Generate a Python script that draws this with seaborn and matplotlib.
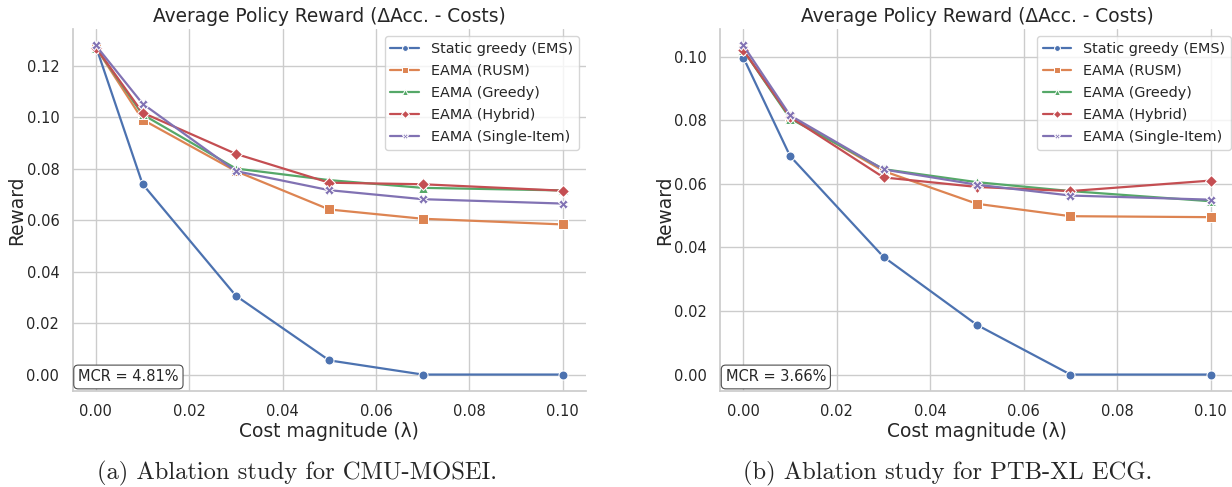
import numpy as np
import pandas as pd
import matplotlib
matplotlib.use("Agg")
import matplotlib.pyplot as plt
import seaborn as sns

# ---- data ----
cost = [0.0, 0.01, 0.03, 0.05, 0.07, 0.10]
methods = ["Static greedy (EMS)", "EAMA (RUSM)", "EAMA (Greedy)", "EAMA (Hybrid)", "EAMA (Single-Item)"]

mosei_static = [0.1275, 0.0740, 0.0306, 0.0055, 0.0000, 0.0000]
mosei_rusm = [0.1270, 0.0990, 0.0790, 0.0641, 0.0605, 0.0583]
mosei_greedy = [0.1270, 0.1010, 0.0800, 0.0755, 0.0725, 0.0715]
mosei_hybrid = [0.1270, 0.1017, 0.0857, 0.0745, 0.0739, 0.0714]
mosei_single = [0.1278, 0.1052, 0.0790, 0.0716, 0.0681, 0.0664]

ptb_static = [0.0997, 0.0687, 0.0370, 0.0156, 0.0000, 0.0000]
ptb_rusm = [0.1020, 0.0810, 0.0640, 0.0537, 0.0498, 0.0495]
ptb_greedy = [0.1020, 0.0805, 0.0646, 0.0605, 0.0577, 0.0545]
ptb_hybrid = [0.1020, 0.0810, 0.0620, 0.0590, 0.0577, 0.0610]
ptb_single = [0.1035, 0.0815, 0.0645, 0.0597, 0.0563, 0.0550]

mcr = ["MCR = 4.81%", "MCR = 3.66%"]
captions = ["(a) Ablation study for CMU-MOSEI.", "(b) Ablation study for PTB-XL ECG."]
title = "Average Policy Reward (ΔAcc. - Costs)"
xlabel = "Cost magnitude (λ)"
ylabel = "Reward"


def make_df(series):
    rows = []
    for m, vals in zip(methods, series):
        for c, v in zip(cost, vals):
            rows.append({"cost": c, "reward": v, "method": m})
    return pd.DataFrame(rows)


dfs = [
    make_df([mosei_static, mosei_rusm, mosei_greedy, mosei_hybrid, mosei_single]),
    make_df([ptb_static, ptb_rusm, ptb_greedy, ptb_hybrid, ptb_single]),
]

sns.set_theme(style="whitegrid", palette="deep")
plt.rcParams["font.family"] = ["DejaVu Sans"]

W, H = 1232, 487
fig = plt.figure(figsize=(W / 100, H / 100), dpi=100)
axes = [
    fig.add_axes([72.5 / W, 1 - 391 / H, 513.5 / W, 362 / H]),
    fig.add_axes([720 / W, 1 - 391 / H, 514 / W, 362 / H]),
]

markers = ["o", "s", "^", "D", "X"]
for i, (ax, df, txt) in enumerate(zip(axes, dfs, mcr)):
    sns.lineplot(data=df, x="cost", y="reward", hue="method", style="method",
                 hue_order=methods, style_order=methods, markers=markers,
                 dashes=False, ax=ax, linewidth=1.6, markersize=6.5)
    ax.set_title(title, fontsize=13.4, color=".15", pad=5)
    ax.set_xlabel(xlabel, fontsize=13.4, labelpad=2)
    ax.set_ylabel(ylabel, fontsize=13.4, labelpad=0)
    ax.tick_params(labelsize=10.5)
    sns.despine(ax=ax)
    anchor = (1.0, 1.0) if i == 0 else (1.008, 1.0)
    ax.legend(loc="upper right", fontsize=10.4, frameon=True,
              labelspacing=0.55, markerscale=0.65, bbox_to_anchor=anchor)
    ax.text(0.011, 0.018, txt, transform=ax.transAxes, ha="left", va="bottom",
            fontsize=10.5, color=".15",
            bbox=dict(boxstyle="round,pad=0.3", fc="white", ec="0.3", lw=0.8))

fig.text(297 / W, 1 - 473 / H, captions[0], ha="center", va="center",
         fontsize=17.7, family="cmr10")
fig.text(948 / W, 1 - 473 / H, captions[1], ha="center", va="center",
         fontsize=17.7, family="cmr10")

fig.savefig("out.png", dpi=100)
